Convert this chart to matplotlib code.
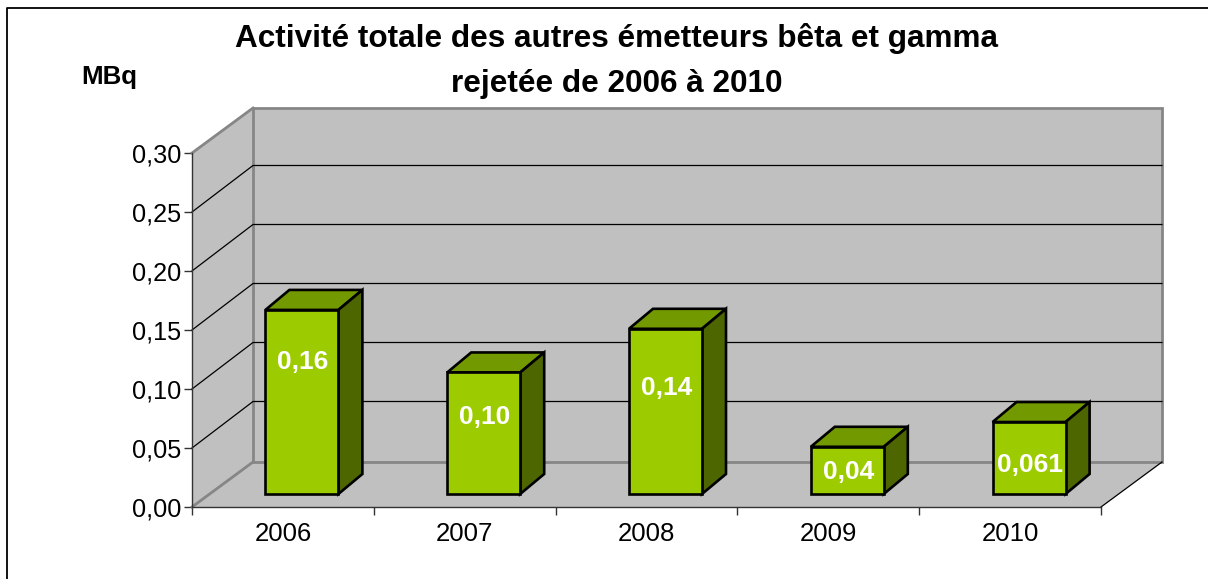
import matplotlib
matplotlib.use('Agg')
import matplotlib.pyplot as plt
from matplotlib.lines import Line2D
from matplotlib.patches import Polygon, Rectangle

years=['2006','2007','2008','2009','2010']
values=[0.156,0.103,0.14,0.04,0.061]
value_labels=['0,16','0,10','0,14','0,04','0,061']
yticks=[0.0,0.05,0.10,0.15,0.20,0.25,0.30]
# how far each label sits above the middle of its bar, in pixels
label_lift=[40,16,23,-2,-7]

W,H=1208,579
plt.rcParams['font.family']=['Liberation Sans','DejaVu Sans']

fig=plt.figure(figsize=(W/100,H/100),dpi=100)
fig.patch.set_facecolor('white')
# front plane of the fake 3d box, in pixels from the image
ax=fig.add_axes([192/W,1-507/H,(1101-192)/W,(507-153)/H])
ax.set_xlim(0,5)
ax.set_ylim(0,0.30)
ax.patch.set_visible(False)

px_x=5/909
px_y=0.30/354
# depth of the box (61px right, 45px up)
dx=61*px_x
dy=45*px_y
grid_dy=46.5*px_y
# bar depth and how far the bar stands from the front edge
bar_dx=24*px_x
bar_dy=20*px_y
front_dx=19*px_x
front_dy=13*px_y
bar_w=73*px_x
grey='#c0c0c0'
wall_edge='#868686'

def poly(pts,fc,ec,lw,z):
    ax.add_patch(Polygon(pts,closed=True,facecolor=fc,edgecolor=ec,linewidth=lw,zorder=z,clip_on=False,joinstyle='miter'))

# floor and side wall first, back wall outline on top of them
poly([(0,0),(5,0),(5+dx,dy),(dx,dy)],grey,'none',0,1)
poly([(0,0),(dx,dy),(dx,0.30+dy),(0,0.30)],grey,'none',0,1)
poly([(dx,dy),(5+dx,dy),(5+dx,0.30+dy),(dx,0.30+dy)],grey,wall_edge,2,1)

# gridlines, side wall then back wall
for t in yticks[1:-1]:
    ax.plot([0,dx,5+dx],[t,t+grid_dy,t+grid_dy],color='black',lw=0.9,zorder=2,clip_on=False,solid_joinstyle='miter')

ax.plot([0,dx],[0.30,0.30+dy],color=wall_edge,lw=2,zorder=2,clip_on=False)
ax.plot([0,dx],[0,dy],color=wall_edge,lw=2,zorder=2,clip_on=False)
ax.plot([5,5+dx],[0,dy],color='black',lw=0.9,zorder=2,clip_on=False)

# bars
for i,v in enumerate(values):
    x0=i+(1-bar_w)/2+front_dx
    x1=x0+bar_w
    y0=front_dy
    y1=y0+v
    poly([(x0,y1),(x1,y1),(x1+bar_dx,y1+bar_dy),(x0+bar_dx,y1+bar_dy)],'#739900','black',1.9,5)
    poly([(x1,y0),(x1+bar_dx,y0+bar_dy),(x1+bar_dx,y1+bar_dy),(x1,y1)],'#4d6600','black',1.9,5)
    ax.add_patch(Rectangle((x0,y0),bar_w,v,facecolor='#9ccc00',edgecolor='black',linewidth=1.9,zorder=6,clip_on=False))
    ax.text((x0+x1)/2+px_x,(y0+y1)/2+label_lift[i]*px_y,value_labels[i],color='white',fontsize=18.9,fontweight='bold',ha='center',va='center',zorder=7)

# axes
for s in ['top','right']:
    ax.spines[s].set_visible(False)
for s in ['left','bottom']:
    ax.spines[s].set_color('#333333')
    ax.spines[s].set_linewidth(1)
    ax.spines[s].set_zorder(3)
ax.set_yticks(yticks)
ax.set_yticklabels([('%.2f'%t).replace('.',',') for t in yticks])
ax.set_xticks(range(6))
ax.set_xticklabels(['']*6)
ax.set_xticks([i+0.5 for i in range(5)],minor=True)
ax.set_xticklabels(years,minor=True)
ax.tick_params(axis='y',labelsize=18.2,length=6,width=1,pad=2,color='#333333')
ax.tick_params(axis='x',which='major',length=6,width=1,color='#333333')
ax.tick_params(axis='x',which='minor',length=0,labelsize=18.5,pad=11)

# title and unit
fig.text(616.5/W,1-38/H,'Activité totale des autres émetteurs bêta et gamma',fontsize=22.7,fontweight='bold',ha='center',va='center')
fig.text(616.5/W,1-84/H,'rejetée de 2006 à 2010',fontsize=22.7,fontweight='bold',ha='center',va='center')
fig.text(109.5/W,1-77/H,'MBq',fontsize=18.6,fontweight='bold',ha='center',va='center')

# chart border, only top and left show in the crop
fig.add_artist(Line2D([7.5/W,7.5/W,1],[0,1-7.5/H,1-7.5/H],transform=fig.transFigure,color='black',linewidth=1.3))

fig.savefig('out.png',dpi=100)
